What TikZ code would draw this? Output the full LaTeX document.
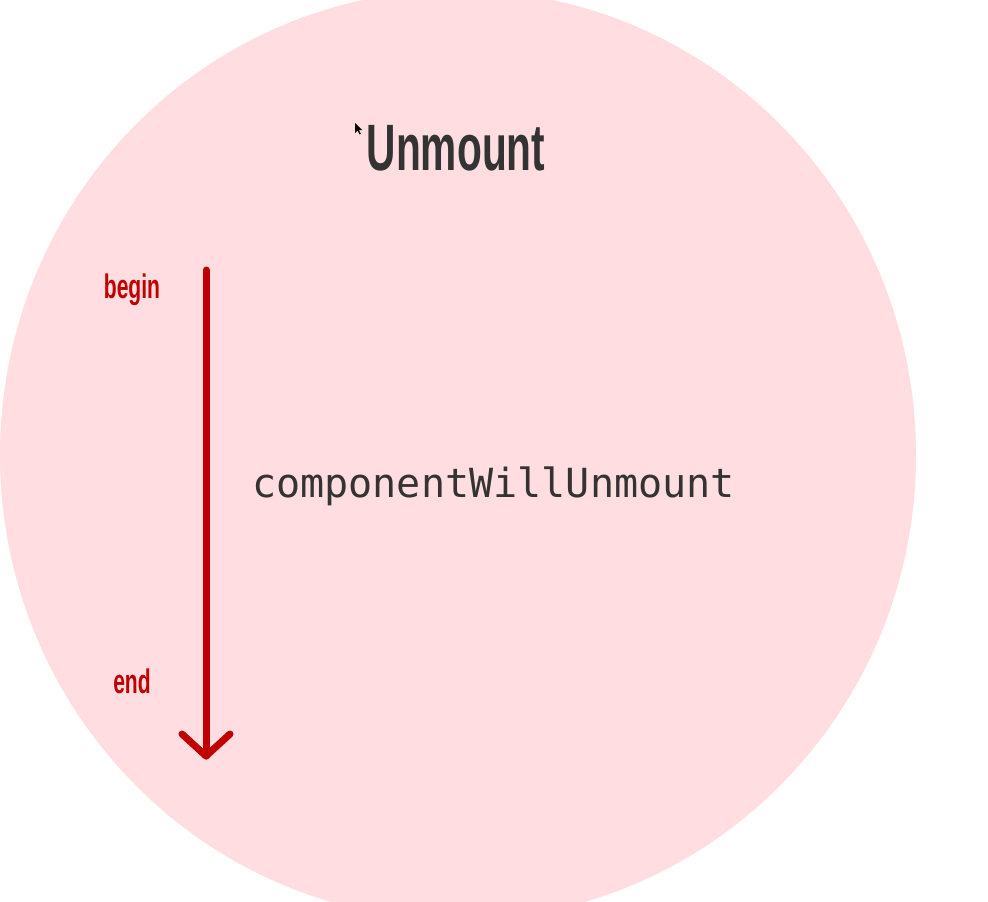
\documentclass[tikz,border=0pt]{standalone}
\usepackage{fontspec}
\usepackage{graphicx}
\newfontfamily\headfont{Liberation Sans}
\newfontfamily\codefont{DejaVu Sans Mono}
\definecolor{bgpink}{HTML}{FFDDE0}
\definecolor{arrowred}{HTML}{C00000}
\definecolor{textgray}{HTML}{333333}
\tikzset{
  cond/.style={inner sep=0pt, anchor=base},
  flowline/.style={draw=arrowred, line width=7pt, line cap=round, line join=round},
}
\newcommand{\condtext}[2]{\scalebox{0.62}[1]{\headfont\bfseries\fontsize{#1}{#1}\selectfont #2}}
\begin{document}
\begin{tikzpicture}[x=1pt,y=-1pt]
\useasboundingbox (0,0) rectangle (988,902);
\clip (0,0) rectangle (988,902);
\fill[white] (0,0) rectangle (988,902);
\fill[bgpink] (458,455) ellipse [x radius=458, y radius=465];
% cursor
\fill[black] (355,123) -- (355,133) -- (357.5,130.5) -- (359.5,134.5) -- (360.8,133.8) -- (358.8,130) -- (362,130) -- cycle;
\node[cond, text=textgray] (title) at (456,170) {\condtext{65.6pt}{Unmount}};
\node[cond, text=arrowred] (begin) at (132,298) {\condtext{34pt}{begin}};
\node[cond, text=arrowred] (end) at (132,693) {\condtext{34pt}{end}};
\node[cond, text=textgray] (method) at (493.5,497) {\codefont\fontsize{40.1pt}{40.1pt}\selectfont componentWillUnmount};
\coordinate (top) at (206,270);
\coordinate (tip) at (206,756);
\draw[flowline] (top) -- (tip);
\draw[flowline] (tip) ++(-24,-22) -- (tip) -- ++(24,-22);
\end{tikzpicture}
\end{document}
